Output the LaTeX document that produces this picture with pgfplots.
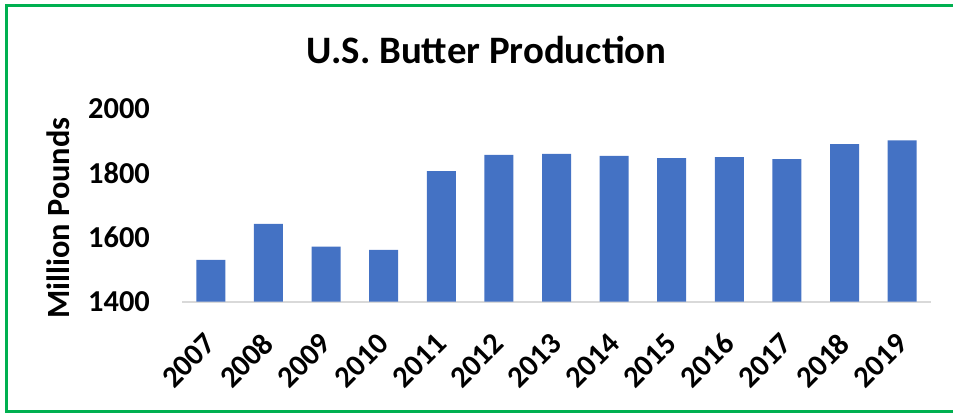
\documentclass[border=0pt]{standalone}
\usepackage{pgfplots}
\pgfplotsset{compat=1.18}
\usepackage{fontspec}
\setmainfont{Carlito}
\definecolor{barblue}{HTML}{4472C4}
\definecolor{framegreen}{HTML}{00B050}
\definecolor{axisgray}{HTML}{D9D9D9}
\begin{document}
\begin{tikzpicture}
\useasboundingbox (0bp,0bp) rectangle (953bp,413bp);
\begin{scope}
\clip (0bp,0bp) rectangle (953bp,413bp);
\draw[framegreen, line width=3bp] (980bp,1.5bp) -- (6.5bp,1.5bp) -- (6.5bp,407.3bp) -- (980bp,407.3bp);
\end{scope}
\node[anchor=base, font=\fontsize{39}{44}\selectfont\bfseries] at (486.5bp,349.7bp) {U.S. Butter Production};
\begin{axis}[
  at={(182bp,111.3bp)}, anchor=south west,
  scale only axis, width=749bp, height=193.5bp,
  xmin=-0.5, xmax=12.5, ymin=1400, ymax=2000,
  ytick={1400,1600,1800,2000},
  xtick={0,...,12},
  xticklabels={2007,2008,2009,2010,2011,2012,2013,2014,2015,2016,2017,2018,2019},
  axis x line*=bottom, axis y line*=left,
  x axis line style={draw=axisgray, line width=2bp, -},
  y axis line style={draw=none},
  major tick length=0pt,
  /pgf/number format/assume math mode=true,
  /pgf/number format/1000 sep={},
  tick label style={font=\fontsize{30.5}{36}\selectfont\bfseries, inner sep=0pt},
  yticklabel style={anchor=east},
  yticklabel shift=32bp,
  xticklabel style={rotate=45, anchor=east},
  xticklabel shift=37bp,
  ylabel={Million Pounds},
  ylabel style={font=\fontsize{32.5}{38}\selectfont\bfseries, at={(axis description cs:-0.1656,0.431)}, anchor=center, rotate=0},
  clip=false,
]
\addplot[ybar, bar width=29bp, fill=barblue, draw=none] coordinates {
(0,1530) (1,1641) (2,1571) (3,1561) (4,1805) (5,1855) (6,1858)
(7,1852) (8,1845) (9,1848) (10,1842) (11,1889) (12,1900)
};
\end{axis}
\end{tikzpicture}
\end{document}
